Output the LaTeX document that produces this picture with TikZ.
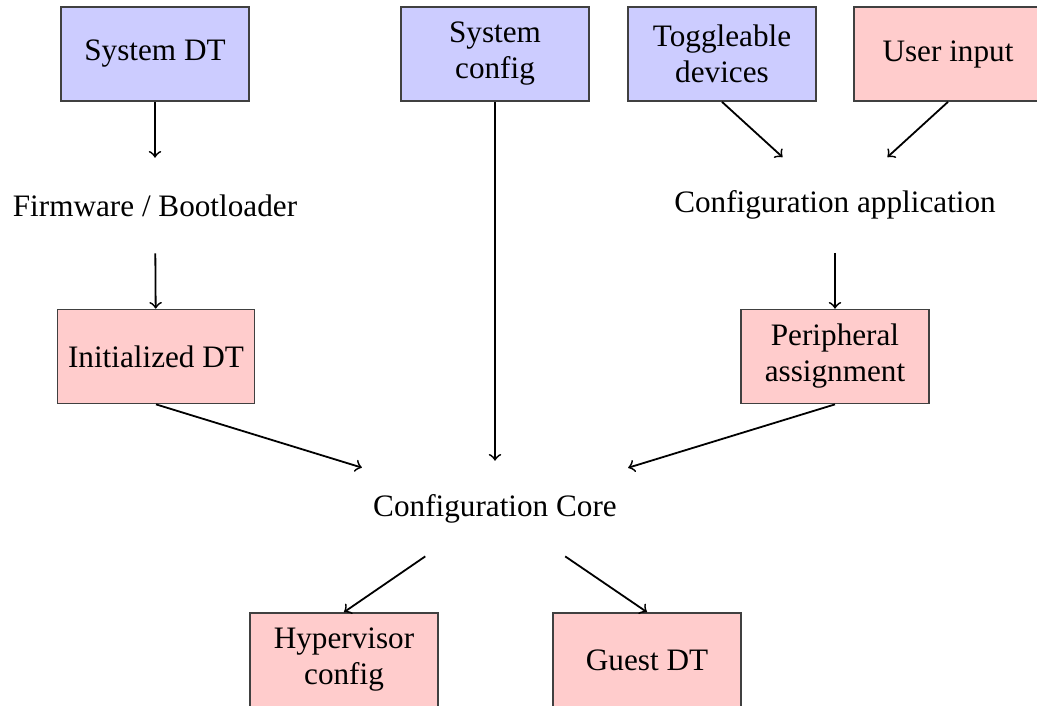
\documentclass[tikz,border=0pt]{standalone}
\usepackage{fontspec}
\setmainfont{Liberation Serif}
\begin{document}
\begin{tikzpicture}[x=0.3333pt,y=-0.3333pt,
  line width=0.6pt,
  every node/.style={font=\fontsize{10.4}{12}\selectfont, align=center,
                     minimum height=31.3pt, inner sep=3.5pt},
  box/.style={draw=black!75, line width=0.6pt, minimum width=62.7pt},
  hw/.style={box, fill=blue!20},
  sw/.style={box, fill=red!20},
  flow/.style={->}]
\clip (0,0) rectangle (1037,705);

% inputs
\node[hw] (sysdt)   at (155,54) {System DT};
\node[hw] (sysconf) at (495,54) {System\\config};
\node[hw] (toggle)  at (722,54) {Toggleable\\devices};
\node[sw] (user)    at (948,54) {User input};

% processing stages
\node (fw)   at (155,205.5) {Firmware / Bootloader};
\node (app)  at (835,205)   {Configuration application};
\node[sw] (init)   at (156,356.5) {Initialized DT};
\node[sw] (periph) at (835,356.5) {Peripheral\\assignment};
\node (core) at (495,508.5) {Configuration Core};

% outputs
\node[sw] (hyp)   at (344,660) {Hypervisor\\config};
\node[sw] (guest) at (647,660) {Guest DT};

% connectors
\draw[flow] (sysdt) -- (fw);
\draw[flow] (fw) -- (init);
\draw[flow] (toggle.south) -- (app);
\draw[flow] (user.south) -- (app);
\draw[flow] (app) -- (periph);
\draw[flow] (sysconf) -- (core);
\draw[flow] (init.south) -- (core);
\draw[flow] (periph.south) -- (core);
\draw[flow] (core) -- (hyp.north);
\draw[flow] (core) -- (guest.north);
\end{tikzpicture}
\end{document}
